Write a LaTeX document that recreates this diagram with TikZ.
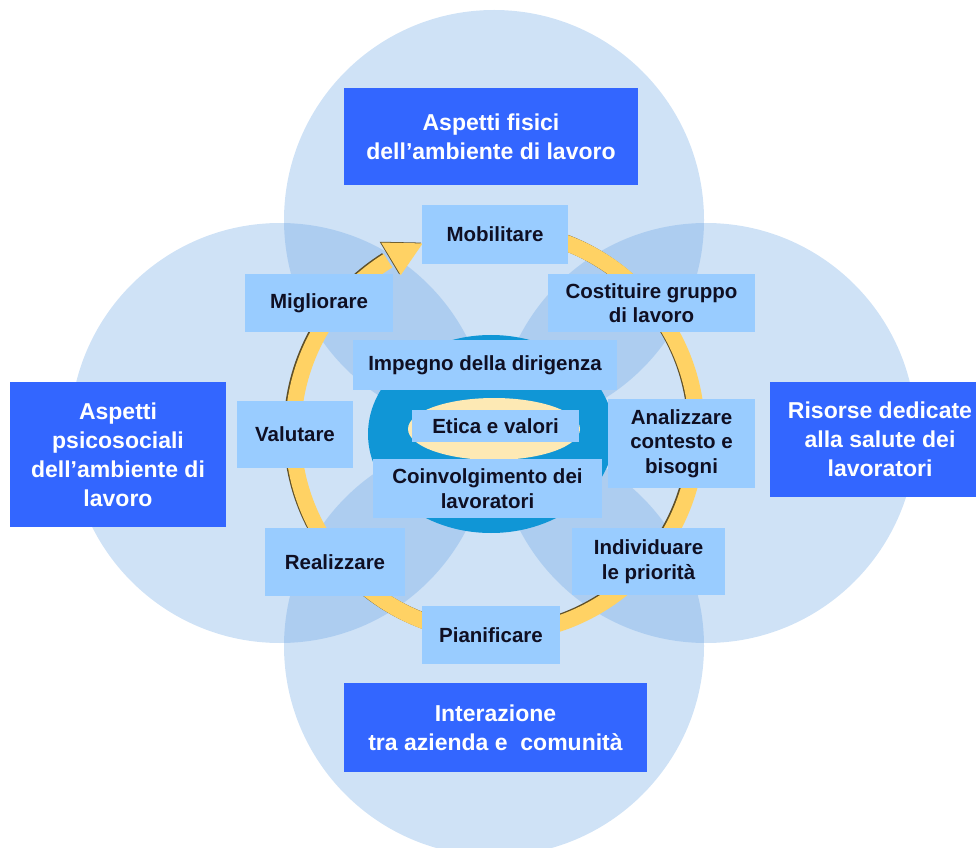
\documentclass[tikz,border=0pt]{standalone}
\usepackage{fontspec}
\setmainfont{Liberation Sans}
\definecolor{cCirc}{RGB}{95,158,225}
\definecolor{cLight}{RGB}{153,204,255}
\definecolor{cDark}{RGB}{51,102,255}
\definecolor{cRing}{RGB}{255,210,100}
\definecolor{cShadow}{RGB}{95,80,40}
\definecolor{cCore}{RGB}{16,150,214}
\definecolor{cCream}{RGB}{253,233,180}
\definecolor{cText}{RGB}{15,15,35}
\tikzset{
  bigcircle/.style={fill=cCirc, fill opacity=0.3},
  lightbox/.style={fill=cLight, text=cText, inner sep=0pt, align=center,
    font=\fontsize{20.5}{24.5}\selectfont\bfseries},
  darkbox/.style={fill=cDark, text=white, inner sep=0pt, align=center,
    font=\fontsize{23}{29}\selectfont\bfseries},
  ringline/.style={line width=16pt}
}
\begin{document}
\begin{tikzpicture}[x=1pt,y=1pt]
\useasboundingbox (0,0) rectangle (976,847);
\begin{scope}
\clip (0,0) rectangle (976,847);
% four large circles
\fill[bigcircle] (494,627) circle[radius=210pt];
\fill[bigcircle] (280,414) circle[radius=210pt];
\fill[bigcircle] (706,414) circle[radius=210pt];
\fill[bigcircle] (494,201) circle[radius=210pt];
% yellow cycle ring with arrow
\begin{scope}[shift={(495,415)}]
  \draw[cShadow, ringline] (-1.5,0.8) ++(122:202pt) arc[start angle=122, end angle=445, radius=202pt];
  \fill[cShadow] ([shift={(-1.5,0.8)}]111:202pt) -- ([shift={(-1.5,0.8)}]121:221pt) -- ([shift={(-1.5,0.8)}]121:183pt) -- cycle;
  \draw[cRing, ringline] (122:202pt) arc[start angle=122, end angle=445, radius=202pt];
  \fill[cRing] (111:202pt) -- (121:221pt) -- (121:183pt) -- cycle;
\end{scope}
% core ellipses
\fill[cCore] (491,413) ellipse[x radius=123pt, y radius=99pt];
\fill[cCream] (494,418) ellipse[x radius=86pt, y radius=31pt];
% dark title boxes
\node[darkbox, minimum width=294pt, minimum height=97pt] (fisici) at (491,710.5)
  {Aspetti fisici\\dell’ambiente di lavoro};
\node[darkbox, minimum width=216pt, minimum height=145pt] (psico) at (118,392.5)
  {Aspetti\\psicosociali\\dell’ambiente di\\lavoro};
\node[darkbox, minimum width=220pt, minimum height=115pt] (risorse) at (880,407.5)
  {Risorse dedicate\\alla salute dei\\lavoratori};
\node[darkbox, minimum width=303pt, minimum height=89pt] (inter) at (495.5,119.5)
  {Interazione\\tra azienda e~~comunità};
% light step boxes
\node[lightbox, minimum width=146pt, minimum height=59pt] (mob) at (495,612.5) {Mobilitare};
\node[lightbox, minimum width=148pt, minimum height=58pt] (mig) at (319,544) {Migliorare};
\node[lightbox, minimum width=207pt, minimum height=58pt] (cost) at (651.5,544) {Costituire gruppo\\di lavoro};
\node[lightbox, minimum width=264pt, minimum height=50pt] (imp) at (485,482) {Impegno della dirigenza};
\node[lightbox, minimum width=116pt, minimum height=67pt] (val) at (295,412.5) {Valutare};
\node[lightbox, minimum width=147pt, minimum height=89pt] (anal) at (681.5,403.5) {Analizzare\\contesto e\\bisogni};
\node[lightbox, minimum width=167pt, minimum height=32pt] (etica) at (495.5,421) {Etica e valori};
\node[lightbox, minimum width=229pt, minimum height=59pt] (coinv) at (487.5,358.5) {Coinvolgimento dei\\lavoratori};
\node[lightbox, minimum width=140pt, minimum height=68pt] (real) at (335,285) {Realizzare};
\node[lightbox, minimum width=153pt, minimum height=67pt] (indiv) at (648.5,285.5) {Individuare\\le priorità};
\node[lightbox, minimum width=138pt, minimum height=58pt] (pian) at (491,212) {Pianificare};
\end{scope}
\end{tikzpicture}
\end{document}
